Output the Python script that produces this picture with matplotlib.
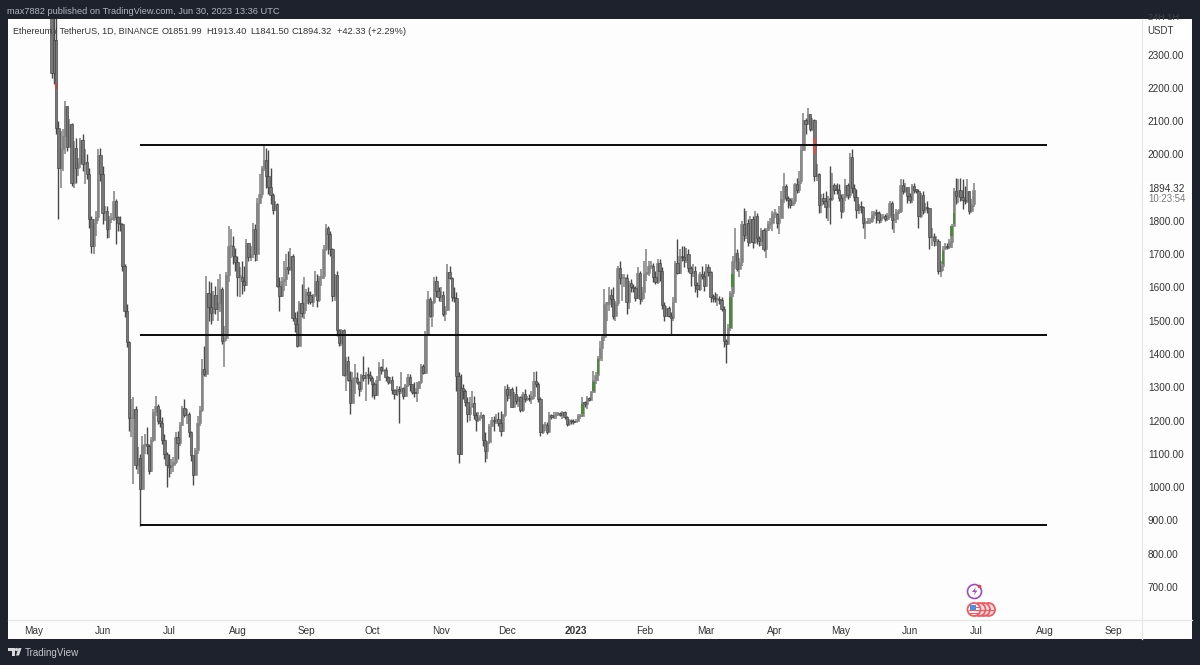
import matplotlib

matplotlib.use("Agg")
import matplotlib.dates as mdates
import matplotlib.pyplot as plt
import pandas as pd
from matplotlib.patches import Circle, Polygon, Rectangle

plt.rcParams["font.family"] = ["Liberation Sans", "DejaVu Sans"]

# daily closes, one line per month (May 9 2022 .. Jun 30 2023)
closes = [
    2245, 2343, 2080, 1960, 2015, 2055, 2145, 2023, 2090, 1914, 2018, 1960, 1975, 2043, 1972, 1978, 1942, 1806, 1725, 1793, 1812, 1997, 1942,
    1823, 1829, 1775, 1805, 1806, 1859, 1813, 1793, 1790, 1664, 1530, 1436, 1207, 1208, 1236, 1068, 1087, 994, 1127, 1127, 1125, 1050, 1143, 1226, 1244, 1199, 1193, 1143, 1100, 1068,
    1060, 1067, 1075, 1151, 1134, 1187, 1238, 1216, 1219, 1167, 1097, 1038, 1113, 1192, 1233, 1355, 1339, 1582, 1542, 1522, 1576, 1536, 1552, 1596, 1438, 1449, 1636, 1724, 1724, 1695, 1678,
    1632, 1632, 1618, 1607, 1733, 1692, 1700, 1776, 1700, 1853, 1880, 1958, 1983, 1935, 1902, 1877, 1834, 1850, 1605, 1575, 1619, 1625, 1661, 1656, 1695, 1507, 1490, 1425, 1553, 1523, 1553,
    1586, 1577, 1556, 1577, 1618, 1561, 1629, 1635, 1717, 1778, 1761, 1715, 1574, 1637, 1472, 1432, 1471, 1336, 1378, 1323, 1252, 1327, 1328, 1317, 1294, 1336, 1329, 1337, 1336, 1328,
    1311, 1276, 1323, 1362, 1351, 1352, 1330, 1316, 1322, 1292, 1279, 1294, 1288, 1297, 1274, 1306, 1332, 1311, 1285, 1282, 1299, 1315, 1364, 1344, 1461, 1566, 1514, 1555, 1620, 1590, 1572,
    1578, 1519, 1531, 1645, 1627, 1571, 1568, 1333, 1100, 1299, 1288, 1255, 1221, 1241, 1252, 1216, 1201, 1212, 1218, 1142, 1108, 1135, 1183, 1203, 1198, 1206, 1194, 1168, 1217, 1295,
    1276, 1294, 1241, 1280, 1258, 1270, 1232, 1281, 1264, 1266, 1264, 1275, 1318, 1309, 1266, 1167, 1186, 1187, 1167, 1216, 1211, 1218, 1220, 1221, 1218, 1226, 1212, 1189, 1200, 1199, 1196,
    1200, 1214, 1214, 1256, 1251, 1269, 1263, 1287, 1321, 1336, 1388, 1417, 1451, 1551, 1551, 1577, 1566, 1514, 1552, 1658, 1627, 1628, 1628, 1557, 1612, 1602, 1598, 1569, 1644, 1566, 1586,
    1641, 1643, 1664, 1666, 1630, 1616, 1673, 1650, 1546, 1514, 1539, 1515, 1507, 1557, 1673, 1642, 1695, 1692, 1682, 1702, 1659, 1643, 1650, 1607, 1595, 1641, 1634, 1605,
    1663, 1647, 1570, 1569, 1564, 1564, 1561, 1534, 1438, 1429, 1479, 1584, 1680, 1704, 1655, 1676, 1792, 1759, 1793, 1736, 1805, 1736, 1815, 1750, 1740, 1773, 1716, 1772, 1792, 1794, 1822,
    1822, 1793, 1808, 1866, 1905, 1870, 1864, 1848, 1861, 1912, 1892, 1920, 2012, 2103, 2092, 2121, 2077, 2102, 1936, 1941, 1849, 1869, 1859, 1842, 1866, 1865, 1908, 1893, 1892, 1870,
    1830, 1872, 1907, 1877, 1992, 1898, 1873, 1833, 1846, 1841, 1795, 1796, 1800, 1800, 1817, 1824, 1823, 1802, 1811, 1815, 1806, 1818, 1854, 1802, 1805, 1828, 1830, 1909, 1891, 1901, 1874,
    1863, 1906, 1892, 1891, 1815, 1879, 1832, 1841, 1838, 1752, 1752, 1741, 1741, 1648, 1664, 1716, 1726, 1721, 1737, 1786, 1889, 1874, 1892, 1873, 1863, 1859, 1889, 1829, 1852, 1894,
]
highs = [
    2590, 2450, 2450, 2100, 2070, 2075, 2160, 2145, 2105, 2095, 2040, 2050, 1990, 2050, 2060, 2015, 2000, 1960, 1815, 1805, 1830, 2015, 2020,
    1965, 1845, 1845, 1815, 1825, 1890, 1865, 1815, 1815, 1795, 1670, 1550, 1440, 1265, 1270, 1245, 1120, 1100, 1155, 1160, 1180, 1130, 1150, 1235, 1275, 1250, 1235, 1210, 1160, 1105,
    1100, 1085, 1090, 1165, 1170, 1195, 1245, 1265, 1235, 1225, 1170, 1095, 1118, 1215, 1245, 1385, 1425, 1635, 1620, 1615, 1590, 1605, 1625, 1640, 1600, 1485, 1645, 1785, 1775, 1755, 1720,
    1695, 1660, 1680, 1665, 1745, 1735, 1725, 1795, 1790, 1870, 1940, 1965, 2030, 2020, 2012, 1960, 1885, 1860, 1855, 1630, 1630, 1680, 1700, 1710, 1720, 1700, 1525, 1530, 1560, 1610, 1630,
    1596, 1600, 1590, 1580, 1650, 1640, 1635, 1655, 1728, 1790, 1785, 1770, 1720, 1640, 1650, 1475, 1475, 1475, 1390, 1395, 1350, 1345, 1370, 1345, 1320, 1340, 1395, 1345, 1360, 1350,
    1335, 1315, 1335, 1375, 1365, 1385, 1360, 1335, 1330, 1335, 1295, 1305, 1305, 1345, 1300, 1310, 1340, 1340, 1310, 1315, 1315, 1320, 1370, 1370, 1470, 1590, 1570, 1560, 1630, 1635, 1600,
    1600, 1590, 1545, 1670, 1665, 1630, 1600, 1585, 1345, 1340, 1310, 1295, 1270, 1270, 1290, 1275, 1225, 1225, 1225, 1220, 1165, 1140, 1190, 1210, 1215, 1220, 1225, 1230, 1220, 1305,
    1310, 1300, 1300, 1285, 1305, 1275, 1275, 1285, 1295, 1275, 1280, 1290, 1345, 1350, 1315, 1270, 1190, 1195, 1195, 1225, 1220, 1225, 1225, 1225, 1225, 1230, 1230, 1215, 1205, 1205, 1205,
    1205, 1220, 1220, 1270, 1260, 1275, 1270, 1290, 1350, 1345, 1395, 1440, 1455, 1595, 1555, 1600, 1595, 1600, 1560, 1665, 1680, 1640, 1640, 1640, 1620, 1625, 1610, 1605, 1660, 1650, 1600,
    1680, 1715, 1680, 1680, 1675, 1650, 1685, 1685, 1660, 1555, 1545, 1545, 1525, 1570, 1680, 1745, 1715, 1725, 1725, 1720, 1715, 1665, 1670, 1665, 1615, 1645, 1665, 1650,
    1670, 1670, 1650, 1580, 1585, 1580, 1575, 1570, 1545, 1445, 1490, 1590, 1695, 1780, 1715, 1690, 1800, 1840, 1830, 1805, 1815, 1815, 1830, 1825, 1755, 1780, 1780, 1780, 1800, 1810, 1830,
    1835, 1825, 1845, 1890, 1945, 1910, 1875, 1870, 1870, 1915, 1930, 1950, 2025, 2125, 2110, 2140, 2120, 2110, 2105, 1970, 1945, 1880, 1885, 1890, 1875, 1965, 1945, 1915, 1915, 1910,
    1880, 1880, 1925, 1915, 2005, 2015, 1910, 1895, 1850, 1860, 1845, 1810, 1810, 1810, 1830, 1830, 1835, 1830, 1820, 1820, 1820, 1825, 1860, 1860, 1820, 1835, 1835, 1925, 1925, 1915, 1885,
    1885, 1910, 1915, 1895, 1895, 1885, 1890, 1855, 1860, 1840, 1780, 1765, 1755, 1745, 1680, 1725, 1735, 1735, 1745, 1790, 1900, 1930, 1925, 1930, 1925, 1905, 1925, 1890, 1865, 1913,
]
lows = [
    2230, 2210, 2060, 1805, 1900, 1950, 2000, 2010, 2020, 1905, 1900, 1915, 1935, 1960, 1950, 1910, 1925, 1780, 1705, 1700, 1755, 1800, 1920,
    1790, 1800, 1750, 1750, 1795, 1800, 1730, 1770, 1770, 1650, 1510, 1420, 1170, 1150, 1010, 1055, 1040, 882, 990, 1100, 1100, 1040, 1045, 1135, 1215, 1190, 1180, 1130, 1085, 1000,
    1030, 1040, 1045, 1070, 1085, 1125, 1185, 1210, 1190, 1150, 1080, 1005, 1040, 1100, 1185, 1225, 1335, 1330, 1500, 1490, 1500, 1520, 1500, 1525, 1430, 1360, 1440, 1615, 1690, 1670, 1650,
    1575, 1570, 1580, 1590, 1605, 1680, 1680, 1690, 1680, 1680, 1850, 1870, 1950, 1900, 1880, 1850, 1820, 1830, 1600, 1530, 1570, 1590, 1605, 1640, 1650, 1500, 1465, 1420, 1425, 1510, 1505,
    1530, 1550, 1550, 1540, 1570, 1540, 1555, 1605, 1625, 1710, 1700, 1695, 1560, 1560, 1455, 1425, 1425, 1335, 1290, 1320, 1220, 1265, 1280, 1310, 1275, 1285, 1320, 1260, 1310, 1320,
    1270, 1265, 1275, 1320, 1340, 1345, 1320, 1310, 1310, 1280, 1265, 1275, 1192, 1280, 1265, 1270, 1300, 1290, 1280, 1270, 1255, 1295, 1310, 1340, 1340, 1455, 1510, 1480, 1550, 1570, 1560,
    1555, 1515, 1500, 1530, 1625, 1560, 1555, 1290, 1072, 1100, 1265, 1245, 1195, 1200, 1240, 1205, 1170, 1195, 1205, 1125, 1075, 1085, 1130, 1180, 1170, 1190, 1185, 1155, 1165, 1210,
    1260, 1265, 1240, 1240, 1250, 1240, 1225, 1225, 1255, 1260, 1260, 1250, 1265, 1300, 1255, 1155, 1160, 1170, 1160, 1165, 1205, 1205, 1205, 1215, 1215, 1205, 1205, 1185, 1185, 1190, 1190,
    1195, 1198, 1205, 1212, 1240, 1235, 1260, 1262, 1283, 1310, 1320, 1380, 1380, 1440, 1500, 1530, 1540, 1505, 1500, 1545, 1610, 1560, 1600, 1520, 1535, 1585, 1585, 1560, 1565, 1550, 1555,
    1565, 1620, 1635, 1655, 1615, 1610, 1610, 1620, 1535, 1500, 1510, 1510, 1460, 1500, 1555, 1640, 1640, 1680, 1660, 1675, 1645, 1605, 1630, 1585, 1570, 1590, 1625, 1590,
    1640, 1635, 1555, 1555, 1555, 1545, 1550, 1530, 1420, 1372, 1430, 1470, 1570, 1655, 1650, 1630, 1665, 1740, 1745, 1725, 1730, 1720, 1730, 1730, 1725, 1725, 1710, 1690, 1770, 1775, 1770,
    1810, 1780, 1760, 1810, 1855, 1860, 1840, 1840, 1845, 1850, 1885, 1885, 1910, 2010, 2060, 2090, 2070, 2070, 1920, 1920, 1825, 1825, 1850, 1810, 1800, 1790, 1860, 1880, 1880, 1860,
    1810, 1825, 1860, 1865, 1870, 1885, 1860, 1810, 1820, 1825, 1780, 1745, 1790, 1790, 1795, 1805, 1795, 1795, 1795, 1805, 1800, 1800, 1810, 1775, 1765, 1795, 1820, 1825, 1880, 1885, 1855,
    1855, 1855, 1885, 1885, 1780, 1810, 1820, 1825, 1825, 1715, 1725, 1725, 1725, 1640, 1630, 1650, 1715, 1715, 1715, 1720, 1785, 1850, 1855, 1860, 1835, 1850, 1855, 1820, 1825, 1841,
]
first_open = 2518
first_day = "2022-05-09"
dark_up_days = ["2022-05-10", "2022-11-10"]

# drawn levels
levels = [2028, 1456, 885]
level_start = "2022-06-18"
level_end = "2023-08-02"

# coloured stretches on a few candles
accent_days = ["2022-05-11", "2023-01-04", "2023-01-09", "2023-01-11", "2023-03-12", "2023-03-13", "2023-04-19", "2023-06-16", "2023-06-20", "2023-06-21"]
accent_lo = [2195, 1220, 1290, 1340, 1478, 1600, 2000, 1670, 1755, 1790]
accent_hi = [2215, 1250, 1315, 1385, 1570, 1640, 2050, 1710, 1785, 1825]
accent_col = ["#c8453f", "#4f8a3a", "#4f8a3a", "#4f8a3a", "#4f8a3a", "#4f8a3a", "#c8554f", "#4f8a3a", "#4f8a3a", "#4f8a3a"]

month_ticks = ["2022-05-01", "2022-06-01", "2022-07-01", "2022-08-01", "2022-09-01", "2022-10-01", "2022-11-01", "2022-12-01", "2023-01-01", "2023-02-01", "2023-03-01", "2023-04-01", "2023-05-01", "2023-06-01", "2023-07-01", "2023-08-01", "2023-09-01"]
month_labels = ["May", "Jun", "Jul", "Aug", "Sep", "Oct", "Nov", "Dec", "2023", "Feb", "Mar", "Apr", "May", "Jun", "Jul", "Aug", "Sep"]
price_ticks = [700, 800, 900, 1000, 1100, 1200, 1300, 1400, 1500, 1600, 1700, 1800, 2000, 2100, 2200, 2300]

DARK = "#1e222d"
TXT = "#333333"
W, H = 1200, 665

df = pd.DataFrame({"close": closes, "high": highs, "low": lows},
                  index=pd.date_range(first_day, periods=len(closes)))
df["open"] = [first_open] + closes[:-1]
df["x"] = mdates.date2num(df.index)
is_dark = (df.close < df.open) | df.index.isin(pd.to_datetime(dark_up_days))
up = df[~is_dark]
down = df[is_dark]

fig = plt.figure(figsize=(12, 6.65), dpi=100, facecolor=DARK)

# white panel behind everything, pixel coordinates in ov and top
ov = fig.add_axes([0, 0, 1, 1], zorder=0)
ov.set_xlim(0, W)
ov.set_ylim(H, 0)
ov.axis("off")
ov.add_patch(Rectangle((8, 19), 1184, 620, fc="#fdfdfd", ec="none"))

ax = fig.add_axes([8 / W, 1 - 619.5 / H, 1134 / W, 600.5 / H], zorder=1)
ax.patch.set_alpha(0)
x0 = mdates.datestr2num("2022-05-01")
ax.set_xlim(x0 - 26 / 2.211, x0 + 1108 / 2.211)
ax.set_ylim(602.3, 2406.7)

ax.vlines(up.x, up.low, up.high, color="#8a8a8a", linewidth=1.2, zorder=2)
ax.vlines(down.x, down.low, down.high, color="#4a4a4a", linewidth=1.0, zorder=2)
ax.bar(up.x, (up.close - up.open).abs().clip(lower=4), bottom=up[["open", "close"]].min(axis=1), width=1.1,
       color="#858585", edgecolor="#858585", linewidth=0.4, zorder=3)
ax.bar(down.x, (down.open - down.close).abs().clip(lower=4), bottom=down[["open", "close"]].min(axis=1), width=1.1,
       color="#787878", edgecolor="#3a3a3a", linewidth=0.4, zorder=3)
ax.bar(mdates.datestr2num(accent_days), [h - l for h, l in zip(accent_hi, accent_lo)],
       bottom=accent_lo, width=1.1, color=accent_col, zorder=4)

for lv in levels:
    ax.plot([mdates.datestr2num(level_start), mdates.datestr2num(level_end)], [lv, lv],
            color="#0a0a0a", linewidth=1.4, solid_capstyle="butt", zorder=5)

ax.set_xticks(mdates.datestr2num(month_ticks))
ax.set_xticklabels(month_labels, fontsize=7.2, color=TXT)
ax.get_xticklabels()[8].set_fontweight("bold")
ax.yaxis.tick_right()
ax.set_yticks(price_ticks)
ax.set_yticklabels([f"{p:.2f}" for p in price_ticks], fontsize=7.2, color=TXT)
ax.tick_params(axis="x", length=0, pad=5)
ax.tick_params(axis="y", length=0, pad=4.2)
for name in ("top", "left", "right", "bottom"):
    ax.spines[name].set_visible(False)

# chrome on top
top = fig.add_axes([0, 0, 1, 1], zorder=2)
top.set_xlim(0, W)
top.set_ylim(H, 0)
top.axis("off")
top.patch.set_alpha(0)

top.plot([1142, 1142], [19, 639], color="#e6e6e6", lw=0.9)
top.plot([8, 1192], [619.5, 619.5], color="#e6e6e6", lw=0.9)
top.add_patch(Rectangle((1143, 183), 47, 25, fc="#ffffff", ec="none"))
top.add_patch(Rectangle((1144, 24), 45, 16, fc="#ffffff", ec="none"))
top.text(1148, 189.5, "1894.32", fontsize=7.2, color=TXT, va="center")
top.text(1148, 199.5, "10:23:54", fontsize=6.9, color="#777777", va="center")
top.text(1147, 31, "USDT", fontsize=6.9, color=TXT, va="center")
top.text(1148, 18, "24H 1H", fontsize=6.6, color="#444444", va="center")
top.add_patch(Rectangle((1130, 0), 70, 19, fc=DARK, ec="none"))

top.text(7, 11, "max7882 published on TradingView.com, Jun 30, 2023 13:36 UTC",
         fontsize=6.7, color="#b2b5be", va="center")
top.text(13, 31, "Ethereum / TetherUS, 1D, BINANCE", fontsize=6.5, color=TXT, va="center")
top.text(162, 31, "O1851.99", fontsize=6.7, color=TXT, va="center")
top.text(206, 31, "H1913.40", fontsize=6.7, color=TXT, va="center")
top.text(250, 31, "L1841.50", fontsize=6.7, color=TXT, va="center")
top.text(292, 31, "C1894.32", fontsize=6.7, color=TXT, va="center")
top.text(337, 31, "+42.33 (+2.29%)", fontsize=6.7, color=TXT, va="center")

# logo + footer
top.add_patch(Polygon([(8, 648), (15, 648), (15, 655.5), (11.5, 655.5), (11.5, 651), (8, 651)], fc="#d8d9dd", ec="none"))
top.add_patch(Circle((16.5, 649.5), 1.6, fc="#d8d9dd", ec="none"))
top.add_patch(Polygon([(16, 655.5), (18.5, 648), (21.5, 648), (19, 655.5)], fc="#d8d9dd", ec="none"))
top.text(25, 652.5, "TradingView", fontsize=7.1, color="#c4c6cc", va="center")

# event icons
top.add_patch(Circle((974.5, 591.5), 7, fc="#ffffff", ec="#a24bb8", lw=1.2))
top.add_patch(Polygon([(976, 587), (972, 592), (975, 592), (973.5, 596), (977.5, 590.5), (974.8, 590.5)], fc="#a24bb8", ec="none"))
top.add_patch(Circle((979.5, 586.5), 1.8, fc="#e8404c", ec="none"))
for cx in (988.5, 983.5, 979):
    top.add_patch(Circle((cx, 609.5), 6.5, fc="#fbe3e3", ec="#ef5a62", lw=1.3))
    top.plot([cx - 3, cx + 5], [609.5, 609.5], color="#ef5a62", lw=0.8)
top.add_patch(Circle((974, 609.5), 6.5, fc="#ffffff", ec="#ef5a62", lw=1.3))
top.add_patch(Rectangle((969.5, 605), 6, 4.5, fc="#4a90e2", ec="none"))
for yy in (607, 610, 612.5):
    top.plot([976 if yy < 609 else 969, 979], [yy, yy], color="#ef5a62", lw=0.8)

fig.savefig("out.png", dpi=100, facecolor=DARK)
